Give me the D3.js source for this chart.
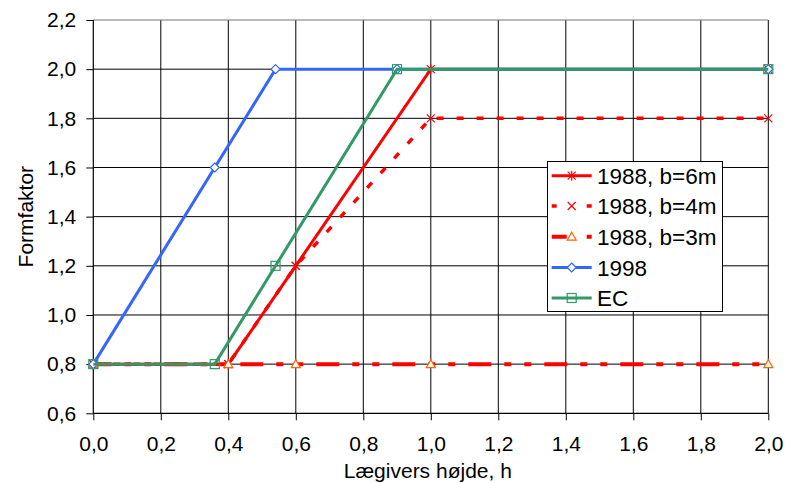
<!DOCTYPE html>
<html>
<head>
<meta charset="utf-8">
<script src="https://cdn.jsdelivr.net/npm/d3@7"></script>
<style>
  body { margin: 0; background: #fff; }
  svg text { font-family: "Liberation Sans", Arial, sans-serif; fill: #000; }
</style>
</head>
<body>
<div id="chart"></div>
<script>
// chart values
var xTicks = [0, 0.2, 0.4, 0.6, 0.8, 1.0, 1.2, 1.4, 1.6, 1.8, 2.0];
var yTicks = [0.6, 0.8, 1.0, 1.2, 1.4, 1.6, 1.8, 2.0, 2.2];
var seriesNames = ["1988, b=6m", "1988, b=4m", "1988, b=3m", "1998", "EC"];
var b6X = [0, 0.4, 0.6, 1.0, 2.0];
var b6Y = [0.8, 0.8, 1.2, 2.0, 2.0];
var b4X = [0, 0.4, 0.6, 1.0, 2.0];
var b4Y = [0.8, 0.8, 1.2, 1.8, 1.8];
var b3X = [0, 0.4, 0.6, 1.0, 2.0];
var b3Y = [0.8, 0.8, 0.8, 0.8, 0.8];
var y1998X = [0, 0.36, 0.54, 0.9, 2.0];
var y1998Y = [0.8, 1.6, 2.0, 2.0, 2.0];
var ecX = [0, 0.36, 0.54, 0.9, 2.0];
var ecY = [0.8, 0.8, 1.2, 2.0, 2.0];

var svgWidth = 785, svgHeight = 483;
var plot = {left: 93.3, right: 768.3, top: 20, bottom: 413.3};

var svg = d3.select("#chart").append("svg")
  .attr("width", svgWidth).attr("height", svgHeight);

var x = d3.scaleLinear().domain([0, 2]).range([plot.left, plot.right]);
var y = d3.scaleLinear().domain([0.6, 2.2]).range([plot.bottom, plot.top]);

// grid lines
var grid = svg.append("g");
grid.selectAll(".vg").data(xTicks.slice(1)).enter().append("line")
  .attr("x1", d => x(d)).attr("x2", d => x(d))
  .attr("y1", plot.top).attr("y2", plot.bottom)
  .attr("stroke", "#000").attr("stroke-width", 1);
grid.selectAll(".hg").data(yTicks.slice(1)).enter().append("line")
  .attr("x1", plot.left).attr("x2", plot.right)
  .attr("y1", d => y(d)).attr("y2", d => y(d))
  .attr("stroke", d => d === 2.2 ? "#777" : "#000").attr("stroke-width", 1);

// axes
var xAxis = svg.append("g")
  .attr("transform", `translate(0, ${plot.bottom})`)
  .call(d3.axisBottom(x).tickValues(xTicks).tickSize(7).tickPadding(16)
    .tickFormat(d => d3.format(".1f")(d).replace(".", ",")));
var yAxis = svg.append("g")
  .attr("transform", `translate(${plot.left}, 0)`)
  .call(d3.axisLeft(y).tickValues(yTicks).tickSize(7).tickPadding(10)
    .tickFormat(d => d3.format(".1f")(d).replace(".", ",")));
[xAxis, yAxis].forEach(function(a) {
  a.select(".domain").attr("stroke", "#000").attr("stroke-width", 1.2)
    .attr("d", a === xAxis ? `M${plot.left},0H${plot.right}` : `M0,${plot.top}V${plot.bottom}`);
  a.selectAll(".tick line").attr("stroke", "#000");
  a.selectAll(".tick text").style("font-size", "21px").attr("fill", "#000");
});
xAxis.selectAll(".tick text").attr("dy", "0.71em");

// axis titles
svg.append("text")
  .attr("x", (plot.left + plot.right) / 2 - 3).attr("y", 478)
  .attr("text-anchor", "middle").style("font-size", "21px")
  .text("Lægivers højde, h");
svg.append("text")
  .attr("transform", `translate(33, ${(plot.top + plot.bottom) / 2}) rotate(-90)`)
  .attr("text-anchor", "middle").style("font-size", "21px")
  .text("Formfaktor");

// marker shapes
function asterisk(g, c) {
  g.append("path").attr("d", "M-4,-4L4,4M-4,4L4,-4M0,-5V5")
    .attr("stroke", c).attr("stroke-width", 1.2).attr("fill", "none");
}
function cross(g, c) {
  g.append("path").attr("d", "M-4,-4L4,4M-4,4L4,-4")
    .attr("stroke", c).attr("stroke-width", 1.2).attr("fill", "none");
}
function triangle(g, c) {
  g.append("path").attr("d", "M0,-4.5L4.5,3.5L-4.5,3.5Z")
    .attr("stroke", c).attr("stroke-width", 1.2).attr("fill", "#fff");
}
function diamond(g, c) {
  g.append("path").attr("d", "M0,-4.5L4.5,0L0,4.5L-4.5,0Z")
    .attr("stroke", c).attr("stroke-width", 1.2).attr("fill", "#fff");
}
function square(g, c) {
  g.append("rect").attr("x", -4.5).attr("y", -4.5).attr("width", 9).attr("height", 9)
    .attr("stroke", c).attr("stroke-width", 1.2).attr("fill", "none");
}

var series = [
  {name: seriesNames[0], xs: b6X, ys: b6Y, color: "#FF0000", mcolor: "#FF0000", dash: null, width: 3, marker: asterisk},
  {name: seriesNames[1], xs: b4X, ys: b4Y, color: "#FF0000", mcolor: "#FF0000", dash: "7,13", width: 3.5, marker: cross},
  {name: seriesNames[2], xs: b3X, ys: b3Y, color: "#FF0000", mcolor: "#FF6600", dash: "23,13,7,13,7,13", offset: 5, width: 4, marker: triangle},
  {name: seriesNames[3], xs: y1998X, ys: y1998Y, color: "#3366FF", mcolor: "#3366FF", dash: null, width: 3, marker: diamond},
  {name: seriesNames[4], xs: ecX, ys: ecY, color: "#339966", mcolor: "#339966", dash: null, width: 3, marker: square}
];

var line = d3.line().x(d => x(d[0])).y(d => y(d[1]));
var chartGroup = svg.append("g");
series.forEach(function(s) {
  var pts = s.xs.map((v, i) => [v, s.ys[i]]);
  chartGroup.append("path").datum(pts)
    .attr("d", line).attr("fill", "none")
    .attr("stroke", s.color).attr("stroke-width", s.width)
    .attr("stroke-dasharray", s.dash).attr("stroke-dashoffset", s.offset || 0);
  pts.forEach(function(p) {
    var g = chartGroup.append("g").attr("transform", `translate(${x(p[0])}, ${y(p[1])})`);
    s.marker(g, s.mcolor);
  });
});

// legend
var legend = svg.append("g");
legend.append("rect").attr("x", 547.5).attr("y", 161.5).attr("width", 175).attr("height", 150)
  .attr("fill", "#fff").attr("stroke", "#000").attr("stroke-width", 1);
var legendY = [175.7, 206, 236.7, 267.5, 298];
series.forEach(function(s, i) {
  var ly = legendY[i];
  legend.append("line").attr("x1", 551.7).attr("x2", 591.7).attr("y1", ly).attr("y2", ly)
    .attr("stroke", s.color).attr("stroke-width", s.width)
    .attr("stroke-dasharray", s.dash ? (i === 1 ? "5,30" : "15,20,5,10") : null);
  var g = legend.append("g").attr("transform", `translate(571.7, ${ly})`);
  s.marker(g, s.mcolor);
  legend.append("text").attr("x", 597).attr("y", ly + 8)
    .style("font-size", "22.5px").text(s.name);
});
</script>
</body>
</html>
